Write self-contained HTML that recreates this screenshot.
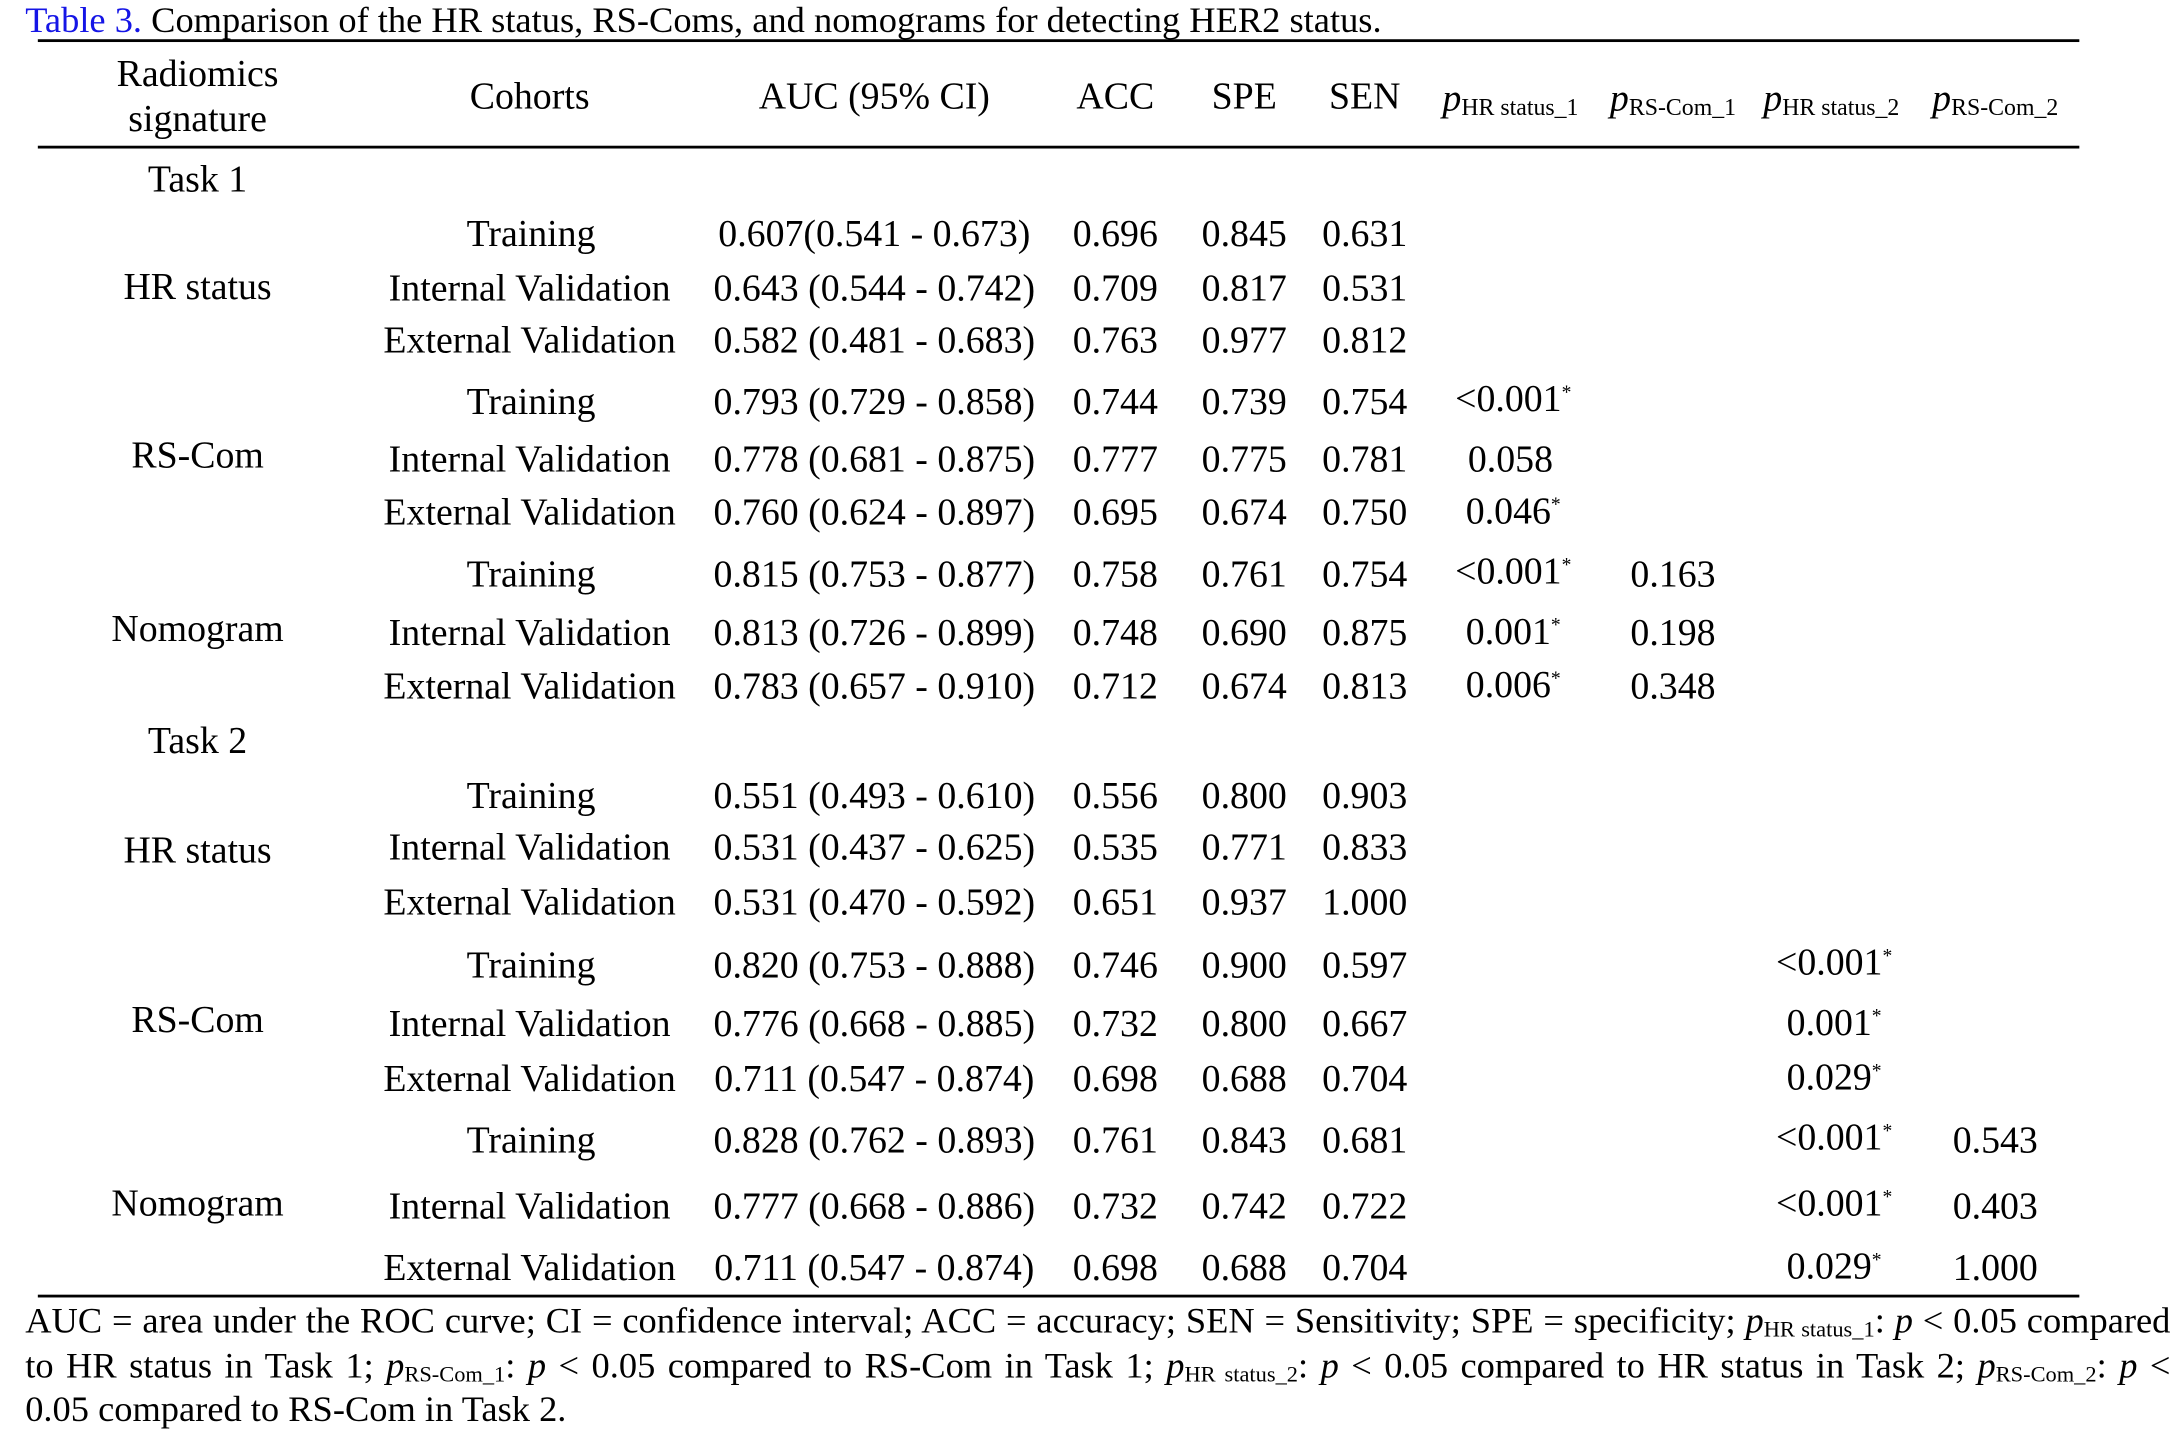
<!DOCTYPE html>
<html><head><meta charset="utf-8"><style>
html,body{margin:0;padding:0;background:#fff;}
body{width:2176px;height:1418px;overflow:hidden;position:relative;}
#s{position:absolute;left:0;top:0;width:1553px;height:1012px;transform:scale(1.40116);transform-origin:0 0;font-family:"Liberation Serif",serif;color:#000;}
.t{position:absolute;white-space:nowrap;font-size:27px;line-height:1;transform:translate(-50%,-50%);}
.l{position:absolute;background:#000;height:1.5px;left:27px;width:1457px;}
sup{font-size:14px;vertical-align:9px;line-height:0}
.p i{font-style:italic}
.p small{font-size:17px;vertical-align:-3px;}
.fn{position:absolute;left:18px;width:1531px;font-size:26px;line-height:1;text-align:justify;text-align-last:justify;white-space:nowrap;}
.fn small{font-size:16px;vertical-align:-3px;}
</style></head><body><div id="s">
<div style="position:absolute;left:18px;top:2px;font-size:26px;line-height:1;white-space:nowrap;"><span style="color:#1515e6">Table 3.</span> Comparison of the HR status, RS-Coms, and nomograms for detecting HER2 status.</div>
<div class="l" style="top:28px"></div>
<div class="l" style="top:104px"></div>
<div class="l" style="top:924px"></div>

<div class="t" style="left:141px;top:53px">Radiomics</div>
<div class="t" style="left:141px;top:85px">signature</div>
<div class="t" style="left:378px;top:69px">Cohorts</div>
<div class="t" style="left:624px;top:69px">AUC (95% CI)</div>
<div class="t" style="left:796px;top:69px">ACC</div>
<div class="t" style="left:888px;top:69px">SPE</div>
<div class="t" style="left:974px;top:69px">SEN</div>
<div class="t p" style="left:1078px;top:71px"><i>p</i><small>HR status_1</small></div>
<div class="t p" style="left:1194px;top:71px"><i>p</i><small>RS-Com_1</small></div>
<div class="t p" style="left:1307px;top:71px"><i>p</i><small>HR status_2</small></div>
<div class="t p" style="left:1424px;top:71px"><i>p</i><small>RS-Com_2</small></div>

<div class="t" style="left:141px;top:128px">Task 1</div>
<div class="t" style="left:141px;top:205px">HR status</div>
<div class="t" style="left:141px;top:325px">RS-Com</div>
<div class="t" style="left:141px;top:449px">Nomogram</div>
<div class="t" style="left:141px;top:529px">Task 2</div>
<div class="t" style="left:141px;top:607px">HR status</div>
<div class="t" style="left:141px;top:728px">RS-Com</div>
<div class="t" style="left:141px;top:859px">Nomogram</div>

<div class="t" style="left:379px;top:167px">Training</div><div class="t" style="left:624px;top:167px">0.607(0.541 - 0.673)</div><div class="t" style="left:796px;top:167px">0.696</div><div class="t" style="left:888px;top:167px">0.845</div><div class="t" style="left:974px;top:167px">0.631</div>
<div class="t" style="left:378px;top:206px">Internal Validation</div><div class="t" style="left:624px;top:206px">0.643 (0.544 - 0.742)</div><div class="t" style="left:796px;top:206px">0.709</div><div class="t" style="left:888px;top:206px">0.817</div><div class="t" style="left:974px;top:206px">0.531</div>
<div class="t" style="left:378px;top:243px">External Validation</div><div class="t" style="left:624px;top:243px">0.582 (0.481 - 0.683)</div><div class="t" style="left:796px;top:243px">0.763</div><div class="t" style="left:888px;top:243px">0.977</div><div class="t" style="left:974px;top:243px">0.812</div>

<div class="t" style="left:379px;top:287px">Training</div><div class="t" style="left:624px;top:287px">0.793 (0.729 - 0.858)</div><div class="t" style="left:796px;top:287px">0.744</div><div class="t" style="left:888px;top:287px">0.739</div><div class="t" style="left:974px;top:287px">0.754</div><div class="t" style="left:1080px;top:285px">&lt;0.001<sup>*</sup></div>
<div class="t" style="left:378px;top:328px">Internal Validation</div><div class="t" style="left:624px;top:328px">0.778 (0.681 - 0.875)</div><div class="t" style="left:796px;top:328px">0.777</div><div class="t" style="left:888px;top:328px">0.775</div><div class="t" style="left:974px;top:328px">0.781</div><div class="t" style="left:1078px;top:328px">0.058</div>
<div class="t" style="left:378px;top:366px">External Validation</div><div class="t" style="left:624px;top:366px">0.760 (0.624 - 0.897)</div><div class="t" style="left:796px;top:366px">0.695</div><div class="t" style="left:888px;top:366px">0.674</div><div class="t" style="left:974px;top:366px">0.750</div><div class="t" style="left:1080px;top:365px">0.046<sup>*</sup></div>

<div class="t" style="left:379px;top:410px">Training</div><div class="t" style="left:624px;top:410px">0.815 (0.753 - 0.877)</div><div class="t" style="left:796px;top:410px">0.758</div><div class="t" style="left:888px;top:410px">0.761</div><div class="t" style="left:974px;top:410px">0.754</div><div class="t" style="left:1080px;top:408px">&lt;0.001<sup>*</sup></div><div class="t" style="left:1194px;top:410px">0.163</div>
<div class="t" style="left:378px;top:452px">Internal Validation</div><div class="t" style="left:624px;top:452px">0.813 (0.726 - 0.899)</div><div class="t" style="left:796px;top:452px">0.748</div><div class="t" style="left:888px;top:452px">0.690</div><div class="t" style="left:974px;top:452px">0.875</div><div class="t" style="left:1080px;top:451px">0.001<sup>*</sup></div><div class="t" style="left:1194px;top:452px">0.198</div>
<div class="t" style="left:378px;top:490px">External Validation</div><div class="t" style="left:624px;top:490px">0.783 (0.657 - 0.910)</div><div class="t" style="left:796px;top:490px">0.712</div><div class="t" style="left:888px;top:490px">0.674</div><div class="t" style="left:974px;top:490px">0.813</div><div class="t" style="left:1080px;top:489px">0.006<sup>*</sup></div><div class="t" style="left:1194px;top:490px">0.348</div>

<div class="t" style="left:379px;top:568px">Training</div><div class="t" style="left:624px;top:568px">0.551 (0.493 - 0.610)</div><div class="t" style="left:796px;top:568px">0.556</div><div class="t" style="left:888px;top:568px">0.800</div><div class="t" style="left:974px;top:568px">0.903</div>
<div class="t" style="left:378px;top:605px">Internal Validation</div><div class="t" style="left:624px;top:605px">0.531 (0.437 - 0.625)</div><div class="t" style="left:796px;top:605px">0.535</div><div class="t" style="left:888px;top:605px">0.771</div><div class="t" style="left:974px;top:605px">0.833</div>
<div class="t" style="left:378px;top:644px">External Validation</div><div class="t" style="left:624px;top:644px">0.531 (0.470 - 0.592)</div><div class="t" style="left:796px;top:644px">0.651</div><div class="t" style="left:888px;top:644px">0.937</div><div class="t" style="left:974px;top:644px">1.000</div>

<div class="t" style="left:379px;top:689px">Training</div><div class="t" style="left:624px;top:689px">0.820 (0.753 - 0.888)</div><div class="t" style="left:796px;top:689px">0.746</div><div class="t" style="left:888px;top:689px">0.900</div><div class="t" style="left:974px;top:689px">0.597</div><div class="t" style="left:1309px;top:687px">&lt;0.001<sup>*</sup></div>
<div class="t" style="left:378px;top:731px">Internal Validation</div><div class="t" style="left:624px;top:731px">0.776 (0.668 - 0.885)</div><div class="t" style="left:796px;top:731px">0.732</div><div class="t" style="left:888px;top:731px">0.800</div><div class="t" style="left:974px;top:731px">0.667</div><div class="t" style="left:1309px;top:730px">0.001<sup>*</sup></div>
<div class="t" style="left:378px;top:770px">External Validation</div><div class="t" style="left:624px;top:770px">0.711 (0.547 - 0.874)</div><div class="t" style="left:796px;top:770px">0.698</div><div class="t" style="left:888px;top:770px">0.688</div><div class="t" style="left:974px;top:770px">0.704</div><div class="t" style="left:1309px;top:769px">0.029<sup>*</sup></div>

<div class="t" style="left:379px;top:814px">Training</div><div class="t" style="left:624px;top:814px">0.828 (0.762 - 0.893)</div><div class="t" style="left:796px;top:814px">0.761</div><div class="t" style="left:888px;top:814px">0.843</div><div class="t" style="left:974px;top:814px">0.681</div><div class="t" style="left:1309px;top:812px">&lt;0.001<sup>*</sup></div><div class="t" style="left:1424px;top:814px">0.543</div>
<div class="t" style="left:378px;top:861px">Internal Validation</div><div class="t" style="left:624px;top:861px">0.777 (0.668 - 0.886)</div><div class="t" style="left:796px;top:861px">0.732</div><div class="t" style="left:888px;top:861px">0.742</div><div class="t" style="left:974px;top:861px">0.722</div><div class="t" style="left:1309px;top:859px">&lt;0.001<sup>*</sup></div><div class="t" style="left:1424px;top:861px">0.403</div>
<div class="t" style="left:378px;top:905px">External Validation</div><div class="t" style="left:624px;top:905px">0.711 (0.547 - 0.874)</div><div class="t" style="left:796px;top:905px">0.698</div><div class="t" style="left:888px;top:905px">0.688</div><div class="t" style="left:974px;top:905px">0.704</div><div class="t" style="left:1309px;top:904px">0.029<sup>*</sup></div><div class="t" style="left:1424px;top:905px">1.000</div>

<div class="fn" style="top:930px">AUC = area under the ROC curve; CI = confidence interval; ACC = accuracy; SEN = Sensitivity; SPE = specificity; <i>p</i><small>HR status_1</small>: <i>p</i> &lt; 0.05 compared</div>
<div class="fn" style="top:962px">to HR status in Task 1; <i>p</i><small>RS-Com_1</small>: <i>p</i> &lt; 0.05 compared to RS-Com in Task 1; <i>p</i><small>HR status_2</small>: <i>p</i> &lt; 0.05 compared to HR status in Task 2; <i>p</i><small>RS-Com_2</small>: <i>p</i> &lt;</div>
<div class="fn" style="top:993px;text-align-last:left">0.05 compared to RS-Com in Task 2.</div>
</div></body></html>
